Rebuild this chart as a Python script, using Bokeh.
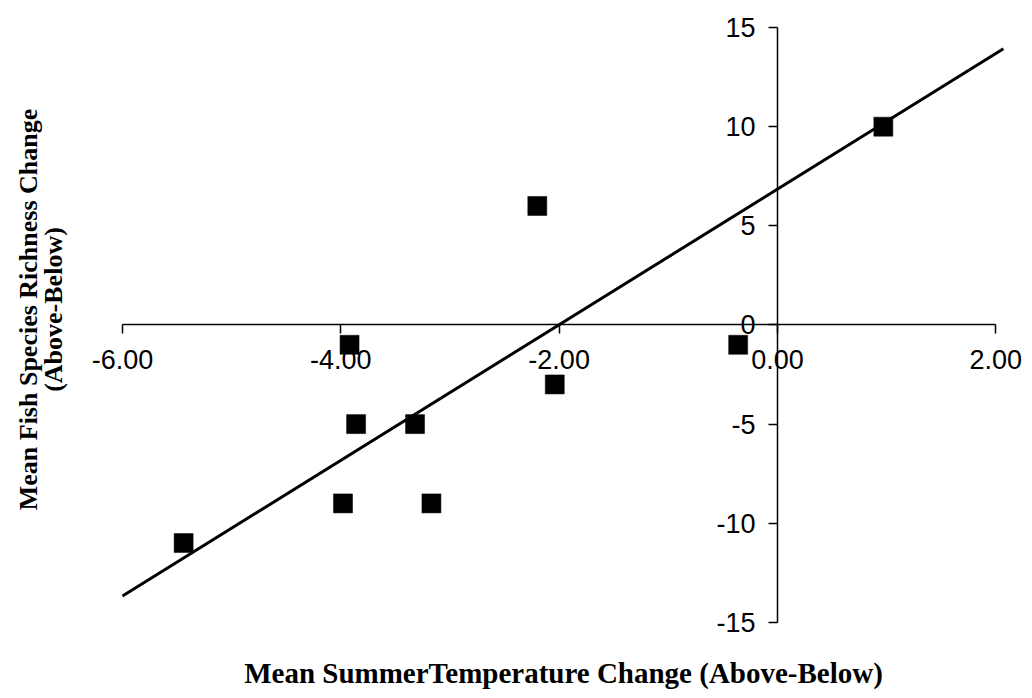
import math

from bokeh.embed import file_html
from bokeh.resources import INLINE
from bokeh.plotting import figure
from bokeh.models import (ColumnDataSource, Range1d, FixedTicker,
                          NumeralTickFormatter, Label)

# Mean summer temperature change vs. mean fish species richness change
temp_change = [-5.44, -3.92, -3.86, -3.98, -3.32, -3.17, -2.20, -2.04, -0.36, 0.97]
richness_change = [-11, -1, -5, -9, -5, -9, 6, -3, -1, 10]

# Fitted trend line
trend_slope = 3.42
trend_intercept = 6.85
trend_x = [-6.0, 2.07]

x_ticks = [-6, -4, -2, 0, 2]
y_ticks = [-15, -10, -5, 0, 5, 10, 15]

x_title = "Mean SummerTemperature Change (Above-Below)"
y_title_lines = ["Mean Fish Species Richness Change", "(Above-Below)"]

W, H = 1032, 698
# canvas placement of the axis ends and the scale in pixels per unit
X_MIN_PX, X_PER_UNIT = 122, 109.16
Y_MAX_PX, Y_PER_UNIT = 27, 19.83

# the frame fills the whole canvas so the crossing axes and titles are not clipped
x_lo = -6 - X_MIN_PX / X_PER_UNIT
x_hi = x_lo + W / X_PER_UNIT
y_hi = 15 + Y_MAX_PX / Y_PER_UNIT
y_lo = y_hi - H / Y_PER_UNIT

p = figure(width=W, height=H, output_backend="svg", toolbar_location=None,
           x_range=Range1d(x_lo, x_hi), y_range=Range1d(y_lo, y_hi),
           min_border=0, background_fill_color="white",
           border_fill_color="white")
p.outline_line_color = None
p.grid.visible = False

# axes crossing at the origin
p.xaxis.fixed_location = 0
p.yaxis.fixed_location = 0
p.xaxis.bounds = (-6, 2)
p.yaxis.bounds = (-15, 15)
p.xaxis.ticker = FixedTicker(ticks=x_ticks)
p.yaxis.ticker = FixedTicker(ticks=y_ticks)
p.xaxis.formatter = NumeralTickFormatter(format="0.00")
p.yaxis.formatter = NumeralTickFormatter(format="0")
for ax in (p.xaxis, p.yaxis):
    ax.axis_line_color = "black"
    ax.axis_line_width = 1.5
    ax.major_tick_line_color = "black"
    ax.major_tick_line_width = 1.5
    ax.major_tick_in = 0
    ax.major_tick_out = 9
    ax.minor_tick_line_color = None
    ax.major_label_text_font = "Liberation Sans"
    ax.major_label_text_font_size = "27px"
    ax.major_label_text_color = "black"
p.xaxis.major_label_standoff = 16
p.yaxis.major_label_standoff = 13

# trend line
trend_y = [trend_slope * x + trend_intercept for x in trend_x]
p.line(trend_x, trend_y, line_color="black", line_width=3)

# observations
src = ColumnDataSource(dict(x=temp_change, y=richness_change))
p.scatter("x", "y", source=src, marker="square", size=19,
          fill_color="black", line_color="black", line_width=0.5)


# helpers to place titles by canvas pixel
def sx_to_data(px):
    return x_lo + px / X_PER_UNIT


def sy_to_data(py):
    return y_hi - py / Y_PER_UNIT


p.add_layout(Label(x=sx_to_data(563), y=sy_to_data(672), text=x_title,
                   text_align="center", text_baseline="middle",
                   text_font="Liberation Serif", text_font_style="bold",
                   text_font_size="29px", text_color="black"))

for cx, line in zip((28, 53), y_title_lines):
    p.add_layout(Label(x=sx_to_data(cx), y=sy_to_data(309), text=line,
                       angle=math.pi / 2, text_align="center",
                       text_baseline="middle",
                       text_font="Liberation Serif", text_font_style="bold",
                       text_font_size="26px", text_color="black"))

open("out.html", "w").write(file_html(p, INLINE))
